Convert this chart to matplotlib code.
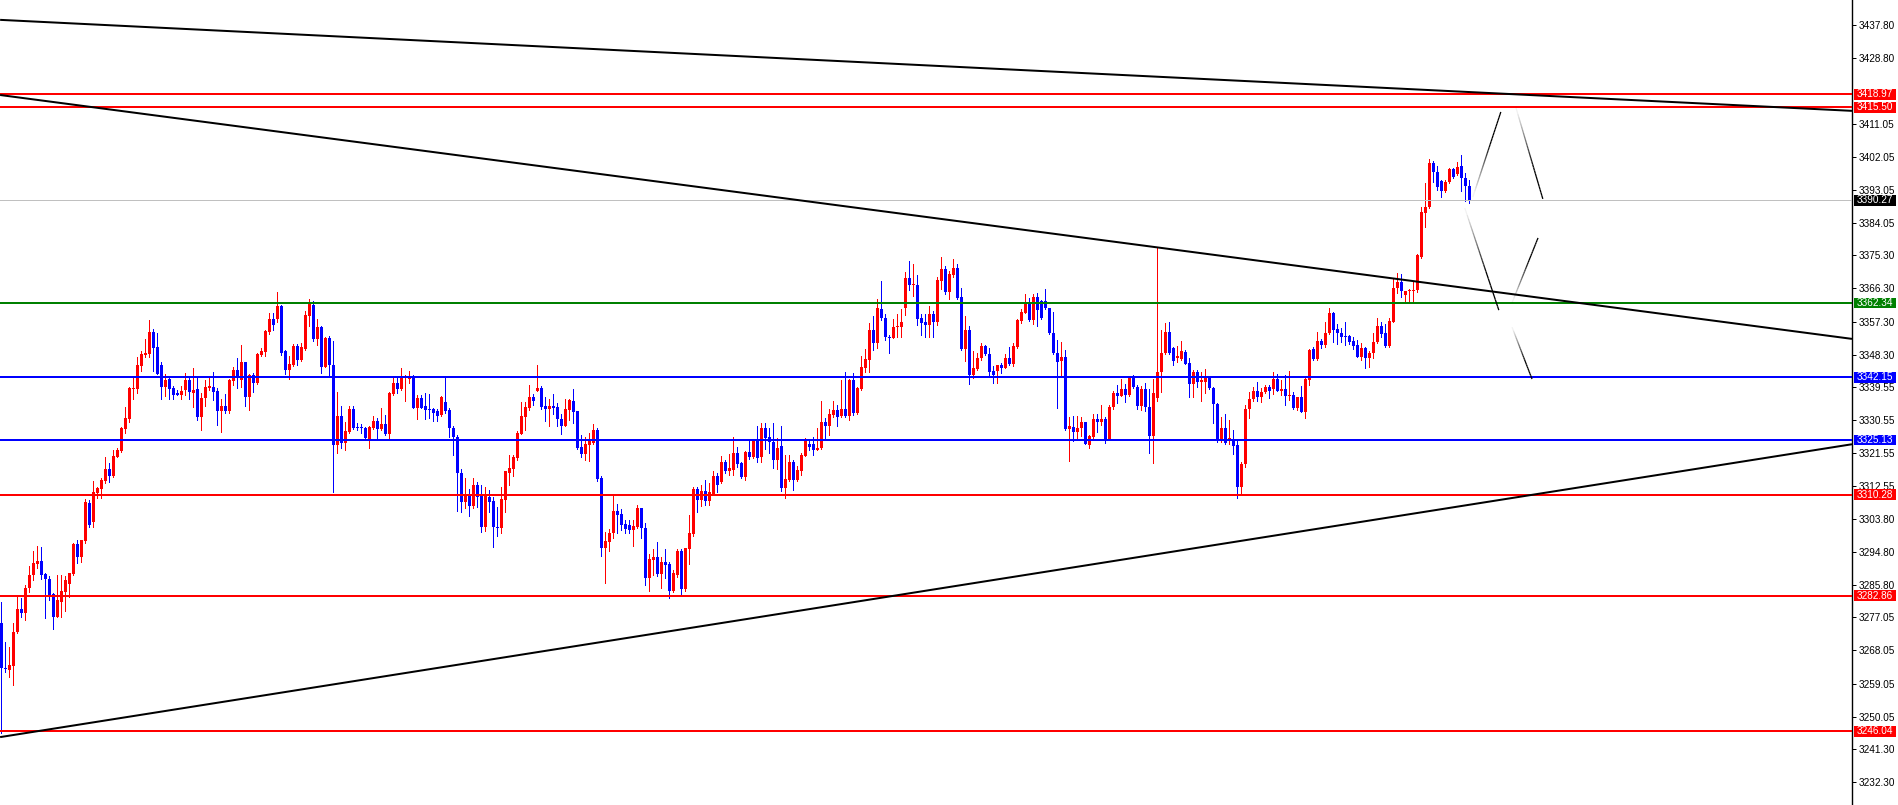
import matplotlib
matplotlib.use("Agg")
import matplotlib.pyplot as plt
import matplotlib.patches as mpatches
import matplotlib.transforms as mtransforms
from matplotlib.collections import LineCollection
import numpy as np

# OHLC of the 368 bars
opens = [
    3275.6, 3263.3, 3262.7, 3263.8, 3272.9, 3279.4, 3278.3, 3284.9, 3288.5, 3291.5,
    3292.3, 3288.8, 3287.4, 3283.3, 3277.2, 3281.3, 3284.0, 3286.0, 3288.8, 3296.9,
    3293.5, 3297.8, 3308.1, 3303.0, 3310.7, 3311.9, 3314.0, 3317.3, 3315.5, 3320.6,
    3322.3, 3328.2, 3330.9, 3339.0, 3339.0, 3345.3, 3348.1, 3348.5, 3354.6, 3350.5,
    3345.5, 3339.6, 3341.6, 3339.4, 3337.7, 3337.4, 3338.6, 3341.4, 3338.0, 3338.9,
    3331.5, 3336.5, 3339.4, 3339.6, 3338.5, 3332.9, 3334.4, 3333.0, 3341.3, 3344.2,
    3341.4, 3346.4, 3336.9, 3342.8, 3340.5, 3348.1, 3349.1, 3354.4, 3358.0, 3357.9,
    3361.6, 3349.4, 3344.2, 3345.5, 3350.8, 3346.9, 3349.8, 3358.9, 3361.8, 3352.6,
    3355.9, 3345.1, 3352.9, 3345.5, 3323.8, 3331.7, 3324.3, 3327.4, 3333.6, 3328.8,
    3328.8, 3328.5, 3325.3, 3328.5, 3330.3, 3328.1, 3329.5, 3326.7, 3337.6, 3340.7,
    3339.0, 3342.2, 3341.6, 3342.4, 3333.9, 3336.6, 3334.4, 3333.5, 3333.6, 3332.9,
    3331.9, 3335.6, 3333.3, 3328.3, 3326.1, 3316.1, 3308.2, 3310.5, 3307.1, 3312.9,
    3309.9, 3301.6, 3309.8, 3308.6, 3301.6, 3301.3, 3308.9, 3316.1, 3317.4, 3320.2,
    3326.9, 3331.5, 3333.9, 3336.7, 3338.4, 3339.4, 3334.4, 3333.6, 3334.4, 3334.0,
    3330.9, 3329.0, 3333.3, 3335.8, 3333.0, 3323.3, 3321.4, 3323.8, 3324.4, 3327.9,
    3314.9, 3295.7, 3297.5, 3299.8, 3305.9, 3305.1, 3302.3, 3302.1, 3300.7, 3301.4,
    3306.8, 3301.3, 3287.8, 3292.7, 3293.5, 3288.8, 3291.9, 3291.5, 3284.2, 3288.5,
    3295.0, 3284.6, 3295.6, 3299.6, 3311.8, 3308.9, 3311.3, 3308.7, 3310.6, 3315.4,
    3313.8, 3319.3, 3316.7, 3317.0, 3321.7, 3319.0, 3315.2, 3321.8, 3320.6, 3325.1,
    3320.6, 3328.3, 3325.9, 3324.7, 3319.7, 3323.5, 3312.2, 3314.3, 3319.3, 3314.3,
    3316.8, 3320.8, 3324.2, 3324.0, 3322.4, 3323.0, 3330.1, 3328.9, 3331.9, 3333.3,
    3331.6, 3333.7, 3331.7, 3341.4, 3332.4, 3339.0, 3344.8, 3346.9, 3355.0, 3351.6,
    3360.7, 3358.4, 3353.2, 3352.9, 3355.7, 3355.7, 3361.0, 3369.2, 3367.2, 3367.2,
    3358.2, 3357.3, 3356.5, 3359.3, 3357.3, 3368.4, 3371.6, 3365.4, 3370.0, 3371.9,
    3363.9, 3349.8, 3355.0, 3342.8, 3344.4, 3347.3, 3350.7, 3348.5, 3343.9, 3344.0,
    3345.5, 3344.8, 3347.3, 3345.8, 3350.5, 3357.5, 3359.7, 3362.1, 3357.7, 3363.9,
    3363.0, 3363.0, 3360.9, 3354.3, 3348.7, 3346.7, 3347.8, 3328.1, 3328.8, 3327.4,
    3328.3, 3330.1, 3323.8, 3326.0, 3330.8, 3330.1, 3330.8, 3325.4, 3334.0, 3338.0,
    3337.2, 3339.0, 3337.3, 3342.1, 3339.6, 3334.5, 3339.0, 3334.2, 3326.3, 3336.5,
    3343.5, 3348.7, 3354.4, 3350.0, 3347.3, 3347.1, 3349.1, 3346.1, 3340.3, 3343.5,
    3341.0, 3341.0, 3342.3, 3339.4, 3334.8, 3324.9, 3328.3, 3325.3, 3325.3, 3323.8,
    3312.5, 3318.6, 3333.7, 3336.2, 3338.5, 3336.9, 3338.1, 3339.6, 3339.0, 3341.7,
    3338.4, 3339.0, 3337.2, 3337.4, 3333.9, 3336.7, 3332.8, 3341.5, 3349.8, 3347.1,
    3352.0, 3350.9, 3354.1, 3359.7, 3355.3, 3354.3, 3353.2, 3353.4, 3352.0, 3350.9,
    3347.8, 3350.0, 3347.3, 3348.7, 3351.7, 3356.1, 3354.1, 3350.8, 3357.3, 3366.5,
    3368.1, 3364.5, 3365.6, 3365.6, 3365.9, 3374.9, 3386.9, 3388.3, 3400.3, 3397.8,
    3395.5, 3392.8, 3395.3, 3398.7, 3397.3, 3399.5, 3396.4, 3394.2,
]
highs = [
    3281.3, 3270.4, 3269.0, 3275.4, 3282.6, 3282.2, 3285.8, 3291.0, 3295.0, 3296.4,
    3296.2, 3289.0, 3288.3, 3283.5, 3288.5, 3288.5, 3288.3, 3289.1, 3297.1, 3298.0,
    3298.0, 3309.1, 3308.9, 3314.0, 3312.5, 3314.8, 3320.6, 3318.8, 3322.4, 3322.9,
    3328.8, 3334.2, 3339.6, 3341.9, 3347.6, 3349.3, 3352.5, 3357.7, 3355.2, 3354.1,
    3346.2, 3343.0, 3342.4, 3339.8, 3338.7, 3339.8, 3343.3, 3341.9, 3344.6, 3342.5,
    3337.8, 3341.4, 3341.9, 3343.7, 3339.2, 3336.3, 3337.6, 3341.6, 3345.1, 3347.3,
    3351.0, 3346.4, 3343.0, 3343.4, 3348.9, 3350.0, 3355.0, 3359.5, 3359.5, 3365.3,
    3361.8, 3349.6, 3348.0, 3351.2, 3351.2, 3351.4, 3360.3, 3363.4, 3363.0, 3358.0,
    3356.2, 3353.2, 3353.4, 3352.0, 3338.3, 3334.4, 3330.1, 3334.4, 3334.4, 3329.7,
    3329.5, 3328.8, 3329.0, 3331.8, 3331.0, 3333.9, 3331.9, 3338.3, 3341.9, 3341.9,
    3344.6, 3342.8, 3343.9, 3342.8, 3337.4, 3337.4, 3337.8, 3337.6, 3333.8, 3333.6,
    3337.2, 3341.9, 3333.9, 3329.0, 3326.5, 3317.2, 3314.8, 3311.9, 3314.8, 3313.8,
    3312.8, 3312.3, 3311.6, 3309.8, 3307.0, 3312.5, 3316.8, 3321.1, 3321.1, 3327.6,
    3335.6, 3335.6, 3340.1, 3337.6, 3345.5, 3339.8, 3336.7, 3336.2, 3337.6, 3335.3,
    3332.2, 3336.2, 3336.2, 3339.0, 3333.0, 3326.5, 3326.1, 3327.1, 3329.5, 3328.3,
    3315.4, 3300.3, 3300.9, 3309.9, 3307.8, 3306.3, 3303.4, 3303.4, 3303.4, 3307.5,
    3306.8, 3302.7, 3294.1, 3295.5, 3297.5, 3293.3, 3295.5, 3292.1, 3289.9, 3295.5,
    3295.5, 3295.7, 3304.8, 3312.5, 3312.5, 3312.8, 3314.3, 3313.4, 3316.7, 3316.1,
    3320.8, 3319.7, 3321.3, 3326.1, 3323.3, 3319.3, 3322.2, 3325.1, 3325.3, 3328.9,
    3329.8, 3329.9, 3328.3, 3329.9, 3325.6, 3328.9, 3321.0, 3321.0, 3319.7, 3318.1,
    3321.5, 3325.6, 3324.8, 3326.0, 3328.4, 3335.7, 3331.0, 3333.7, 3335.7, 3334.6,
    3341.4, 3343.7, 3341.6, 3343.4, 3339.6, 3347.9, 3349.8, 3356.8, 3358.8, 3363.3,
    3368.3, 3359.3, 3353.6, 3358.1, 3359.3, 3360.6, 3370.8, 3373.7, 3372.9, 3369.9,
    3359.3, 3359.3, 3361.5, 3360.2, 3369.3, 3374.7, 3372.3, 3371.1, 3374.2, 3372.9,
    3366.3, 3358.8, 3356.1, 3349.3, 3348.9, 3351.4, 3350.9, 3350.2, 3345.2, 3345.6,
    3346.1, 3348.6, 3350.3, 3351.5, 3357.9, 3360.8, 3364.7, 3363.8, 3364.7, 3365.1,
    3363.1, 3366.1, 3361.1, 3360.0, 3352.3, 3351.8, 3349.6, 3331.4, 3331.6, 3331.6,
    3331.4, 3330.1, 3326.6, 3332.3, 3332.3, 3334.6, 3331.4, 3334.6, 3338.5, 3340.0,
    3341.8, 3340.3, 3342.5, 3342.7, 3340.0, 3339.9, 3340.5, 3338.9, 3341.6, 3377.4,
    3355.0, 3357.0, 3357.2, 3350.3, 3350.6, 3352.0, 3349.6, 3347.3, 3344.1, 3344.1,
    3343.7, 3344.4, 3342.5, 3339.6, 3335.1, 3331.4, 3332.2, 3330.7, 3327.8, 3324.8,
    3319.2, 3334.6, 3338.3, 3339.6, 3340.8, 3339.2, 3340.1, 3340.1, 3343.7, 3343.2,
    3341.4, 3342.8, 3343.9, 3338.1, 3336.9, 3339.8, 3342.1, 3349.9, 3350.3, 3354.4,
    3352.6, 3357.3, 3361.1, 3360.0, 3356.6, 3355.6, 3357.3, 3353.7, 3353.0, 3352.3,
    3351.4, 3350.5, 3349.3, 3354.3, 3358.4, 3357.1, 3356.6, 3358.2, 3369.2, 3370.6,
    3370.1, 3365.6, 3366.1, 3368.4, 3375.6, 3388.5, 3394.8, 3401.4, 3401.0, 3399.4,
    3395.7, 3395.7, 3398.9, 3399.1, 3400.7, 3402.5, 3397.5, 3395.7,
]
lows = [
    3245.5, 3262.3, 3260.9, 3258.6, 3272.7, 3277.2, 3276.3, 3284.0, 3287.1, 3290.3,
    3287.4, 3276.9, 3281.7, 3273.8, 3277.2, 3277.2, 3278.6, 3282.6, 3288.5, 3291.7,
    3291.9, 3297.3, 3301.4, 3301.6, 3309.3, 3309.3, 3313.4, 3313.8, 3315.2, 3320.6,
    3322.0, 3327.0, 3330.1, 3336.3, 3337.8, 3344.0, 3347.8, 3347.8, 3344.0, 3343.1,
    3336.3, 3337.1, 3336.3, 3336.3, 3337.4, 3336.3, 3337.4, 3336.3, 3334.2, 3330.6,
    3327.9, 3334.4, 3338.7, 3336.0, 3329.2, 3327.2, 3332.4, 3332.6, 3340.1, 3339.2,
    3339.6, 3334.4, 3333.3, 3338.3, 3340.4, 3348.0, 3348.0, 3353.9, 3355.0, 3357.3,
    3348.2, 3343.1, 3341.6, 3345.3, 3345.5, 3346.7, 3349.6, 3356.1, 3351.9, 3351.0,
    3343.4, 3344.9, 3342.5, 3311.1, 3321.5, 3322.9, 3322.4, 3327.0, 3328.1, 3328.0,
    3327.0, 3325.2, 3323.1, 3328.1, 3325.2, 3328.0, 3326.5, 3325.3, 3337.4, 3338.0,
    3338.7, 3335.8, 3340.5, 3333.8, 3330.8, 3333.8, 3330.9, 3331.2, 3330.4, 3330.4,
    3331.8, 3332.4, 3325.9, 3321.1, 3306.0, 3305.5, 3306.8, 3304.6, 3306.8, 3306.9,
    3300.1, 3300.5, 3305.7, 3296.0, 3299.1, 3300.0, 3305.7, 3312.8, 3315.5, 3319.7,
    3326.7, 3327.9, 3333.3, 3334.7, 3338.4, 3333.5, 3330.3, 3329.0, 3332.2, 3329.0,
    3326.8, 3329.0, 3330.6, 3329.7, 3322.6, 3320.6, 3319.7, 3319.5, 3324.1, 3314.1,
    3293.7, 3286.4, 3295.1, 3298.5, 3299.8, 3300.7, 3299.8, 3299.8, 3296.4, 3301.2,
    3298.6, 3285.8, 3284.2, 3288.5, 3288.2, 3285.1, 3287.6, 3282.2, 3283.8, 3288.0,
    3282.9, 3284.2, 3291.5, 3299.2, 3305.7, 3307.2, 3307.5, 3307.5, 3310.2, 3310.9,
    3313.4, 3316.1, 3315.6, 3315.6, 3317.9, 3314.9, 3314.3, 3319.9, 3320.3, 3319.2,
    3319.2, 3322.7, 3321.7, 3317.6, 3317.2, 3311.3, 3309.5, 3314.1, 3311.7, 3314.1,
    3315.6, 3320.8, 3322.4, 3321.0, 3322.4, 3322.8, 3325.1, 3326.5, 3331.4, 3328.9,
    3331.4, 3331.4, 3330.5, 3331.9, 3332.2, 3338.7, 3343.7, 3343.7, 3349.5, 3350.0,
    3357.7, 3352.4, 3348.8, 3352.9, 3353.2, 3353.2, 3359.1, 3365.9, 3364.2, 3356.3,
    3353.6, 3353.2, 3353.2, 3353.2, 3356.3, 3366.1, 3364.9, 3363.4, 3369.3, 3363.3,
    3349.5, 3346.6, 3340.3, 3342.1, 3344.1, 3347.0, 3348.2, 3342.6, 3340.7, 3340.7,
    3343.4, 3344.6, 3345.5, 3345.2, 3350.2, 3357.0, 3359.5, 3357.5, 3356.6, 3356.1,
    3357.9, 3360.8, 3353.9, 3348.4, 3333.9, 3342.7, 3327.8, 3319.5, 3324.9, 3325.8,
    3326.2, 3324.0, 3323.1, 3325.8, 3327.4, 3329.2, 3324.4, 3325.1, 3333.7, 3335.1,
    3337.0, 3335.5, 3337.0, 3339.4, 3333.7, 3333.2, 3333.0, 3321.5, 3318.9, 3335.8,
    3338.2, 3348.4, 3348.4, 3345.5, 3346.4, 3346.8, 3345.7, 3336.9, 3336.7, 3339.6,
    3335.8, 3337.8, 3338.9, 3329.8, 3324.6, 3324.6, 3324.0, 3324.2, 3321.3, 3309.3,
    3310.4, 3317.9, 3331.0, 3335.7, 3335.8, 3335.6, 3337.8, 3336.5, 3337.6, 3339.0,
    3337.4, 3334.7, 3336.0, 3333.5, 3333.3, 3332.8, 3331.2, 3340.1, 3346.9, 3346.9,
    3350.2, 3350.5, 3353.8, 3351.8, 3351.2, 3351.8, 3350.9, 3351.2, 3349.9, 3347.6,
    3346.9, 3344.6, 3345.1, 3347.3, 3351.4, 3353.2, 3350.5, 3350.3, 3357.1, 3365.0,
    3364.1, 3362.3, 3362.3, 3362.3, 3365.4, 3374.5, 3383.1, 3388.0, 3395.3, 3393.0,
    3391.2, 3392.6, 3395.0, 3396.4, 3397.1, 3392.8, 3390.1, 3389.6,
]
closes = [
    3263.2, 3262.9, 3264.1, 3273.1, 3279.4, 3278.3, 3284.9, 3288.5, 3291.7, 3292.3,
    3288.5, 3287.3, 3283.1, 3277.2, 3281.7, 3284.2, 3287.2, 3289.0, 3296.9, 3293.5,
    3298.0, 3308.4, 3302.1, 3311.0, 3312.0, 3314.3, 3317.3, 3315.5, 3320.9, 3322.4,
    3328.5, 3331.2, 3339.2, 3339.4, 3345.5, 3348.5, 3348.9, 3354.6, 3350.2, 3343.1,
    3339.6, 3341.4, 3339.0, 3337.4, 3337.5, 3338.5, 3341.4, 3338.1, 3338.7, 3331.5,
    3336.5, 3339.6, 3339.8, 3338.3, 3332.9, 3334.4, 3333.0, 3341.4, 3344.2, 3342.1,
    3346.4, 3336.9, 3342.8, 3340.5, 3348.5, 3349.4, 3354.8, 3358.0, 3356.4, 3361.6,
    3348.9, 3344.2, 3345.8, 3350.8, 3346.9, 3350.5, 3359.1, 3362.1, 3352.6, 3355.9,
    3345.1, 3352.9, 3345.5, 3323.8, 3331.7, 3324.3, 3327.6, 3333.6, 3328.5, 3328.4,
    3328.3, 3325.6, 3328.8, 3330.3, 3328.1, 3329.5, 3326.7, 3338.0, 3340.7, 3339.0,
    3342.4, 3342.5, 3342.5, 3333.9, 3336.6, 3333.9, 3333.3, 3333.3, 3332.6, 3331.7,
    3336.9, 3333.1, 3328.3, 3326.1, 3316.1, 3308.2, 3310.5, 3307.1, 3312.9, 3309.8,
    3301.6, 3309.9, 3308.4, 3301.4, 3301.3, 3309.1, 3316.8, 3317.6, 3320.6, 3327.1,
    3331.7, 3334.0, 3336.7, 3335.7, 3339.4, 3334.0, 3333.6, 3334.4, 3333.9, 3330.9,
    3329.0, 3333.6, 3336.0, 3332.8, 3322.9, 3321.4, 3324.1, 3325.0, 3327.9, 3314.5,
    3295.7, 3297.7, 3300.0, 3305.9, 3304.8, 3302.1, 3301.0, 3300.7, 3301.8, 3306.8,
    3301.2, 3287.8, 3292.8, 3293.5, 3288.8, 3292.1, 3291.2, 3284.2, 3289.0, 3295.0,
    3284.6, 3295.7, 3300.0, 3311.8, 3308.9, 3311.3, 3308.7, 3310.9, 3315.4, 3313.0,
    3319.3, 3316.7, 3317.5, 3321.7, 3318.6, 3315.2, 3322.0, 3320.6, 3325.1, 3320.3,
    3328.3, 3325.8, 3324.7, 3319.7, 3323.1, 3312.2, 3314.6, 3319.1, 3314.3, 3317.0,
    3321.1, 3324.9, 3323.3, 3322.4, 3323.1, 3330.1, 3328.9, 3332.2, 3333.3, 3331.5,
    3333.7, 3331.7, 3341.4, 3332.4, 3339.3, 3345.0, 3347.1, 3355.0, 3351.6, 3360.9,
    3358.4, 3353.2, 3352.9, 3355.7, 3356.1, 3357.1, 3369.2, 3367.2, 3367.5, 3358.0,
    3356.8, 3356.5, 3359.3, 3357.3, 3368.6, 3371.6, 3365.4, 3370.2, 3371.9, 3363.6,
    3349.8, 3355.0, 3342.8, 3344.6, 3347.5, 3350.7, 3348.5, 3343.7, 3342.8, 3345.5,
    3344.8, 3347.3, 3345.9, 3350.7, 3357.7, 3360.0, 3362.1, 3357.7, 3363.9, 3360.4,
    3358.2, 3361.1, 3354.3, 3348.7, 3346.4, 3347.8, 3328.1, 3328.9, 3327.4, 3328.5,
    3330.1, 3324.2, 3326.2, 3330.8, 3330.1, 3330.8, 3325.4, 3334.2, 3338.0, 3337.2,
    3339.0, 3337.3, 3342.1, 3339.6, 3334.5, 3339.0, 3334.0, 3326.3, 3337.8, 3343.5,
    3348.7, 3354.4, 3348.7, 3346.7, 3347.9, 3349.3, 3345.9, 3340.3, 3343.5, 3341.0,
    3341.4, 3342.1, 3339.2, 3334.8, 3324.9, 3328.3, 3324.4, 3325.8, 3323.6, 3312.5,
    3318.6, 3333.7, 3336.2, 3338.5, 3336.9, 3338.3, 3339.6, 3338.5, 3341.7, 3338.4,
    3339.0, 3337.2, 3337.4, 3333.9, 3336.7, 3332.8, 3341.7, 3349.6, 3347.1, 3352.0,
    3350.9, 3354.3, 3359.5, 3355.0, 3354.1, 3353.2, 3353.0, 3351.8, 3350.7, 3347.8,
    3350.0, 3347.3, 3348.9, 3351.8, 3356.1, 3353.8, 3350.8, 3357.4, 3366.5, 3368.1,
    3365.6, 3365.6, 3365.9, 3365.9, 3375.4, 3387.1, 3388.5, 3400.3, 3397.8, 3393.9,
    3392.8, 3395.3, 3398.7, 3396.6, 3399.3, 3396.2, 3394.2, 3390.3,
]

# horizontal levels and their colours
level_prices = [3418.97, 3415.50, 3362.34, 3342.15, 3325.13, 3310.28, 3282.86, 3246.04]
level_colors = ["#ff0000", "#ff0000", "#008000", "#0000ff", "#0000ff",
                "#ff0000", "#ff0000", "#ff0000"]
last_price = 3390.27

# price scale ticks
tick_prices = [3437.80, 3428.80, 3411.05, 3402.05, 3393.05, 3384.05, 3375.30,
               3366.30, 3357.30, 3348.30, 3339.55, 3330.55, 3321.55, 3312.55,
               3303.80, 3294.80, 3285.80, 3277.05, 3268.05, 3259.05, 3250.05,
               3241.30, 3232.30]

# trend lines: (bar, price) end points
trend_top = [(-0.3, 3439.2), (462.7, 3414.5)]
trend_mid = [(-0.3, 3418.8), (462.7, 3352.6)]
trend_low = [(-0.3, 3244.5), (462.7, 3324.0)]

# projected paths drawn after the last bar, (bar, price)
forecast_paths = [
    [(367.9, 3391.1), (374.9, 3414.2)],
    [(378.7, 3415.3), (385.4, 3390.6)],
    [(365.9, 3388.1), (374.4, 3360.4)],
    [(377.7, 3362.4), (384.2, 3380.0)],
    [(377.7, 3355.8), (382.7, 3341.7)],
]

UP = "#ff0000"
DOWN = "#0000ff"
PX = 0.72  # one pixel in points at dpi 100
FS = 7.2

fig = plt.figure(figsize=(18.99, 8.05), dpi=100)
fig.patch.set_facecolor("white")
ax = fig.add_axes([0, 0, 1852 / 1899, 1])
ax.set_xlim(-0.33, 462.7)
ax.set_ylim(3226.07, 3444.59)

o = np.array(opens)
h = np.array(highs)
l = np.array(lows)
c = np.array(closes)
x = np.arange(len(c))
cols = [UP if cc >= oo else DOWN for oo, cc in zip(o, c)]

top = np.maximum.reduce([h, o, c])
bot = np.minimum.reduce([l, o, c])
ax.vlines(x, bot, top, colors=cols, linewidth=PX, antialiased=False, zorder=2)
body_bot = np.minimum(o, c)
body_h = np.maximum(np.abs(c - o), 0.3)
ax.bar(x, body_h, bottom=body_bot, width=0.72, color=cols, linewidth=0,
       antialiased=False, zorder=2)

# current price line
ax.axhline(last_price, color="#c0c0c0", linewidth=PX, zorder=3)

for p, col in zip(level_prices, level_colors):
    ax.axhline(p, color=col, linewidth=2 * PX, zorder=4)

for line in (trend_top, trend_mid, trend_low):
    (x0, y0), (x1, y1) = line
    ax.plot([x0, x1], [y0, y1], color="black", linewidth=2 * PX, zorder=4,
            solid_capstyle="butt")

# forecast paths fade in from their start
for path in forecast_paths:
    (x0, y0), (x1, y1) = path
    t = np.linspace(0, 1, 30)
    xs = x0 + (x1 - x0) * t
    ys = y0 + (y1 - y0) * t
    segs = [[(xs[k], ys[k]), (xs[k + 1], ys[k + 1])] for k in range(len(t) - 1)]
    alphas = np.clip(t[:-1] * 1.6, 0.05, 1.0)
    colors = [(0, 0, 0, a) for a in alphas]
    ax.add_collection(LineCollection(segs, colors=colors, linewidths=1.3 * PX, zorder=4))

for side in ("left", "top", "bottom"):
    ax.spines[side].set_visible(False)
ax.spines["right"].set_color("black")
ax.spines["right"].set_linewidth(1.4 * PX)
ax.set_xticks([])
ax.yaxis.tick_right()
ax.set_yticks(tick_prices)
ax.set_yticklabels([f"{v:.2f}" for v in tick_prices], fontsize=FS,
                   family="Liberation Sans")
ax.tick_params(axis="y", length=3, width=PX, pad=2, colors="black")

# price tags on the scale
trans = mtransforms.blended_transform_factory(ax.transAxes, ax.transData)
x_left = 1854 / 1852
x_right = 1896 / 1852
half = 5.4 / 3.684
tags = list(zip(level_prices, level_colors)) + [(last_price, "black")]
for p, col in tags:
    ax.add_patch(mpatches.Rectangle((x_left, p - half), x_right - x_left, 2 * half,
                                    transform=trans, facecolor=col, edgecolor="none",
                                    clip_on=False, zorder=6))
    ax.text((x_left + x_right) / 2, p, f"{p:.2f}", transform=trans, color="white",
            fontsize=FS, family="Liberation Sans", ha="center", va="center",
            clip_on=False, zorder=7)

fig.savefig("out.png", dpi=100, facecolor="white")
